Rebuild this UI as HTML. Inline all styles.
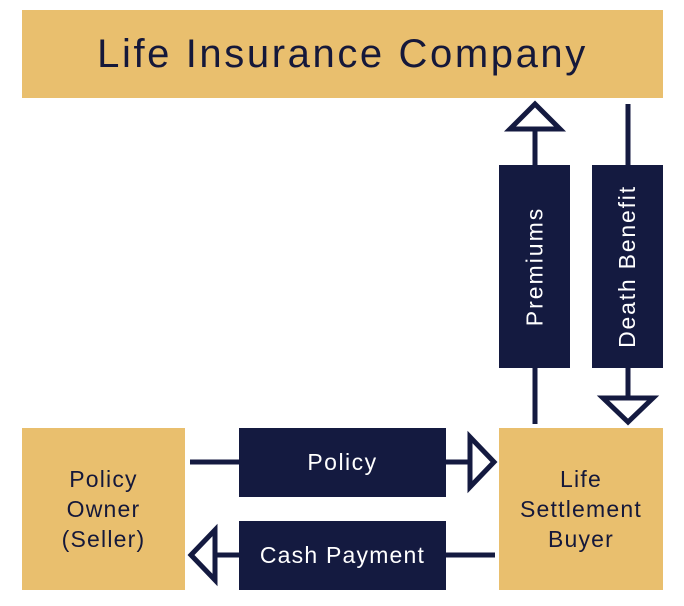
<!DOCTYPE html>
<html><head><style>
body{margin:0;width:684px;height:606px;background:#fff;overflow:hidden;position:relative;font-family:"Liberation Sans",sans-serif}
.g{position:absolute;background:#E9BF6E;color:#15183a;display:flex;align-items:center;justify-content:center;text-align:center}
.n{position:absolute;background:#141a40;color:#fff;display:flex;align-items:center;justify-content:center}
</style></head><body>
<div class="g" style="left:22px;top:10px;width:641px;height:88px;font-size:40px;letter-spacing:2.6px">Life Insurance Company</div>
<div class="g" style="left:22px;top:428px;width:163px;height:162px;font-size:23px;line-height:30px;letter-spacing:1.2px">Policy<br>Owner<br>(Seller)</div>
<div class="g" style="left:499px;top:428px;width:164px;height:162px;font-size:23px;line-height:30px;letter-spacing:1.2px">Life<br>Settlement<br>Buyer</div>
<svg width="684" height="606" style="position:absolute;left:0;top:0">
<g stroke="#141a40" stroke-width="5" fill="#fff">
<line x1="535" y1="129" x2="535" y2="424"/>
<line x1="628" y1="104" x2="628" y2="398"/>
<line x1="190" y1="462" x2="470" y2="462"/>
<line x1="215" y1="555" x2="495" y2="555"/>
<polygon points="535,104 510,129 560,129"/>
<polygon points="628,422 603,398 653,398"/>
<polygon points="494,462 470,437 470,487"/>
<polygon points="191,555 215,530 215,580"/>
</g></svg>
<div class="n" style="left:499px;top:165px;width:71px;height:203px"><span style="transform:rotate(-90deg);white-space:nowrap;font-size:23px;letter-spacing:2px">Premiums</span></div>
<div class="n" style="left:592px;top:165px;width:71px;height:203px"><span style="transform:rotate(-90deg);white-space:nowrap;font-size:23px;letter-spacing:1.8px">Death Benefit</span></div>
<div class="n" style="left:239px;top:428px;width:207px;height:69px;font-size:23px;letter-spacing:1.5px">Policy</div>
<div class="n" style="left:239px;top:521px;width:207px;height:69px;font-size:23px;letter-spacing:1.2px">Cash Payment</div>
</body></html>
